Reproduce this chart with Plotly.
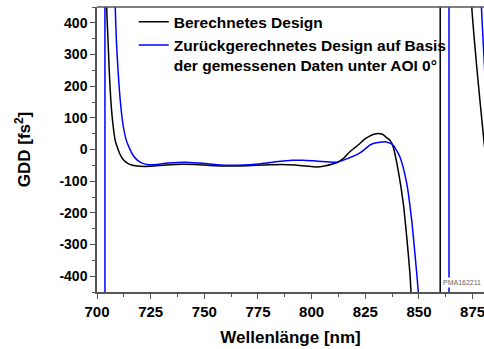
import plotly.graph_objects as go

# Wavelength [nm] and GDD [fs^2] of the calculated design
design_nm = [703.8, 704.5, 705.1, 705.7, 706.5, 707.5, 708.5, 709.5, 710.5, 712.0, 714.0,
             716.5, 720.0, 725.0, 732.0, 740.0, 748.0, 755.0, 762.0, 770.0, 778.0, 786.0,
             792.0, 798.0, 802.3, 806.0, 811.6, 815.0, 817.8, 820.0, 822.5, 824.0, 827.0,
             829.0, 831.0, 833.0, 834.5, 836.5, 838.0, 840.3, 842.7, 844.3, 845.8, 846.3,
             847.5,
             None, 859.9, 859.9, None,
             873.5, 874.6, 877.2, 880.3, 881.0]
design_gdd = [900, 450, 350, 250, 150, 75, 28, 6, -12, -30, -42,
              -50, -53, -53, -49, -46.5, -48, -51, -52, -51, -49, -47,
              -49, -53, -55, -52, -42, -27, -7, 5, 19, 29, 42,
              48, 50.5, 48, 40, 29, 8, -65, -170, -276, -392, -450,
              -600,
              None, -5000, 5000, None,
              700, 450, 240, 25, -20]

# Design recalculated from the measured data at AOI 0°
fit_nm = [703.7, 703.7, None,
          707.8, 708.5, 709.0, 709.8, 710.9, 712.2, 713.7, 715.0, 716.5, 718.5, 721.0,
          724.0, 728.0, 733.0, 741.0, 748.0, 755.0, 762.0, 768.0, 775.0, 782.0, 791.0,
          796.0, 803.0, 811.6, 817.0, 822.5, 827.1, 828.7, 831.0, 834.9, 836.5, 838.0,
          841.1, 844.3, 846.6, 848.1, 849.7, 851.0,
          None, 864.0, 864.0, None,
          878.5, 879.1, 880.3, 881.0]
fit_gdd = [-5000, 5000, None,
           700, 450, 350, 250, 150, 75, 28, 6, -15, -32, -43,
           -48, -47, -43, -40, -43, -47, -50, -49, -45.5, -40, -34,
           -34, -37, -40, -28, -11, 13.6, 19, 22, 24, 20, 13.6,
           -23, -107, -223, -328, -450, -600,
           None, -5000, 5000, None,
           600, 450, 290, 200]

series_names = ["Berechnetes Design",
                "Zurückgerechnetes Design auf Basis<br>der gemessenen Daten unter AOI 0°"]

x_ticks = [700, 725, 750, 775, 800, 825, 850, 875]
y_ticks = [-400, -300, -200, -100, 0, 100, 200, 300, 400]
y_tick_text = ["-400", "-300", "-200", "-100", "0", "100", "200", "300", "400"]

FONT = "Liberation Sans, Arial, sans-serif"
AXIS_COLOR = "#555555"

fig = go.Figure()
fig.add_trace(go.Scatter(x=design_nm, y=design_gdd, mode="lines", name=series_names[0],
                         line=dict(color="black", width=1.5, shape="spline", smoothing=0.6),
                         connectgaps=False))
fig.add_trace(go.Scatter(x=fit_nm, y=fit_gdd, mode="lines", name=series_names[1],
                         line=dict(color="#0000FF", width=1.5, shape="spline", smoothing=0.6),
                         connectgaps=False))

fig.update_layout(
    width=484, height=349,
    margin=dict(l=97, r=0, t=7, b=57),
    paper_bgcolor="white", plot_bgcolor="white",
    font=dict(family=FONT, color="black", size=14, weight="bold"),
    showlegend=True,
    legend=dict(x=0.095, y=1.006, xanchor="left", yanchor="top",
                bgcolor="rgba(0,0,0,0)", borderwidth=0,
                font=dict(family=FONT, size=15.5, weight="bold", color="black"),
                valign="top", tracegroupgap=0),
    annotations=[dict(text="PMA162211", xref="paper", yref="paper",
                      x=0.943, y=0.034, xanchor="center", yanchor="middle",
                      showarrow=False, bgcolor="white",
                      font=dict(family=FONT, size=7, color="#666666", weight="normal"))],
)

fig.update_xaxes(
    range=[700, 880.3], tickvals=x_ticks,
    showgrid=False, zeroline=False,
    showline=True, linecolor=AXIS_COLOR, linewidth=1.5, mirror=False,
    ticks="outside", ticklen=5, tickwidth=1.2, tickcolor=AXIS_COLOR,
    ticklabeloverflow="allow",
    minor=dict(ticks="outside", ticklen=3, tickwidth=1.2, tickcolor=AXIS_COLOR, dtick=12.5, tick0=700),
    tickfont=dict(family=FONT, size=15, weight="bold"),
    title=dict(text="Wellenlänge [nm]", standoff=12,
               font=dict(family=FONT, size=17, weight="bold")),
)
fig.update_yaxes(
    range=[-450, 450], tickvals=y_ticks, ticktext=y_tick_text,
    showgrid=False, zeroline=False,
    showline=True, linecolor=AXIS_COLOR, linewidth=1.5, mirror=False,
    ticks="outside", ticklen=5, tickwidth=1.2, tickcolor=AXIS_COLOR,
    minor=dict(ticks="outside", ticklen=3, tickwidth=1.2, tickcolor=AXIS_COLOR, dtick=50, tick0=0),
    tickfont=dict(family=FONT, size=14, weight="bold"),
    title=dict(text="GDD [fs<sup>2</sup>]", standoff=24,
               font=dict(family=FONT, size=17, weight="bold")),
)

# top frame line
fig.add_shape(type="line", xref="paper", yref="paper", x0=0, x1=1, y0=1, y1=1,
              line=dict(color=AXIS_COLOR, width=1.5))

fig.write_html("out.html")
